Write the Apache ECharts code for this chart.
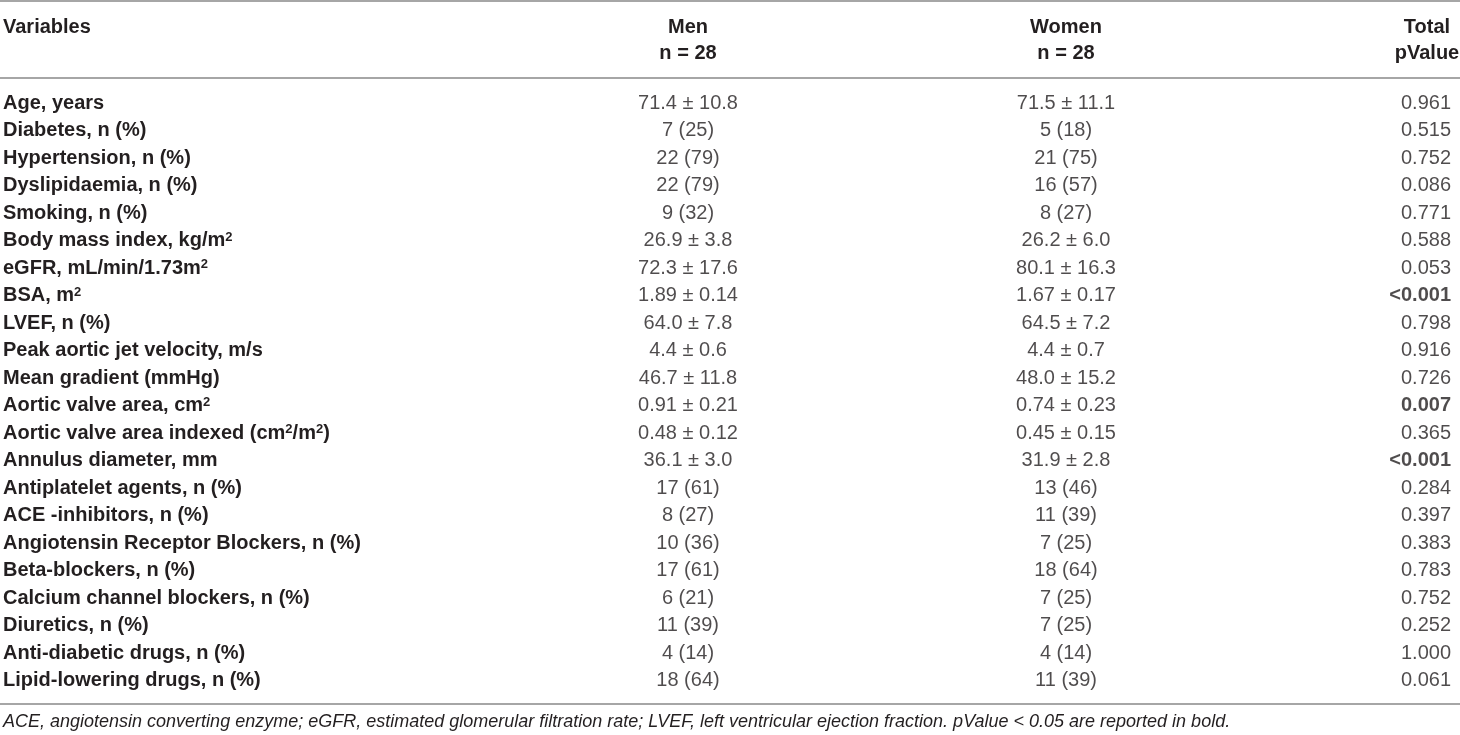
<!DOCTYPE html>
<html>
<head>
<meta charset="utf-8">
<script src="https://cdn.jsdelivr.net/npm/echarts@6/dist/echarts.min.js"></script>
<style>
html,body{margin:0;padding:0;background:#fff;}
#chart{width:1460px;height:735px;}
</style>
</head>
<body>
<div id="chart"></div>
<script>
// ---- data ----
const variables = [
  'Age, years',
  'Diabetes, n (%)',
  'Hypertension, n (%)',
  'Dyslipidaemia, n (%)',
  'Smoking, n (%)',
  'Body mass index, kg/m{sup|2}',
  'eGFR, mL/min/1.73m{sup|2}',
  'BSA, m{sup|2}',
  'LVEF, n (%)',
  'Peak aortic jet velocity, m/s',
  'Mean gradient (mmHg)',
  'Aortic valve area, cm{sup|2}',
  'Aortic valve area indexed (cm{sup|2}/m{sup|2})',
  'Annulus diameter, mm',
  'Antiplatelet agents, n (%)',
  'ACE -inhibitors, n (%)',
  'Angiotensin Receptor Blockers, n (%)',
  'Beta-blockers, n (%)',
  'Calcium channel blockers, n (%)',
  'Diuretics, n (%)',
  'Anti-diabetic drugs, n (%)',
  'Lipid-lowering drugs, n (%)'
];
const menValues = [
  '71.4 ± 10.8','7 (25)','22 (79)','22 (79)','9 (32)','26.9 ± 3.8','72.3 ± 17.6','1.89 ± 0.14',
  '64.0 ± 7.8','4.4 ± 0.6','46.7 ± 11.8','0.91 ± 0.21','0.48 ± 0.12','36.1 ± 3.0','17 (61)',
  '8 (27)','10 (36)','17 (61)','6 (21)','11 (39)','4 (14)','18 (64)'
];
const womenValues = [
  '71.5 ± 11.1','5 (18)','21 (75)','16 (57)','8 (27)','26.2 ± 6.0','80.1 ± 16.3','1.67 ± 0.17',
  '64.5 ± 7.2','4.4 ± 0.7','48.0 ± 15.2','0.74 ± 0.23','0.45 ± 0.15','31.9 ± 2.8','13 (46)',
  '11 (39)','7 (25)','18 (64)','7 (25)','7 (25)','4 (14)','11 (39)'
];
const pValues = [
  '0.961','0.515','0.752','0.086','0.771','0.588','0.053','<0.001','0.798','0.916','0.726',
  '0.007','0.365','<0.001','0.284','0.397','0.383','0.783','0.752','0.252','1.000','0.061'
];
const headerVariables = 'Variables';
const headerMen = ['Men', 'n = 28'];
const headerWomen = ['Women', 'n = 28'];
const headerTotal = ['Total', 'pValue'];
const footnote = 'ACE, angiotensin converting enzyme; eGFR, estimated glomerular filtration rate; LVEF, left ventricular ejection fraction. pValue < 0.05 are reported in bold.';

// ---- layout ----
const W = 1460;
const colX = { men: 688, women: 1066, total: 1451, totalHead: 1427 };
const FONT = '"Liberation Sans", Arial, Helvetica, sans-serif';
const TXT = '#231f20';
const FS = 20;
const RULE = '#a6a6a6';

const rich = {
  sup: { fontSize: 13, verticalAlign: 'top', lineHeight: 14, padding: [0, 0, 9, 0], fontWeight: 'bold', color: TXT, fontFamily: FONT },
  b: { fontWeight: 'bold', fontSize: FS, color: TXT, fontFamily: FONT }
};

function colSeries(values, x, align) {
  return {
    type: 'scatter',
    symbolSize: 0,
    silent: true,
    data: values.map((v, i) => [x, i, v]),
    label: {
      show: true,
      position: 'inside',
      align: align,
      verticalAlign: 'middle',
      fontFamily: FONT,
      fontSize: FS,
      color: TXT,
      formatter: p => {
        const v = p.data[2];
        return (align === 'right' && (v === '<0.001' || parseFloat(v) < 0.05)) ? '{b|' + v + '}' : v;
      },
      rich: rich
    }
  };
}

const chart = echarts.init(document.getElementById('chart'), null, { renderer: 'canvas' });

const headText = (text, x, y, align, bold) => ({
  type: 'text', x: x, y: y,
  style: { text: text, fontFamily: FONT, fontSize: FS, fontWeight: bold ? 'bold' : 'normal', fill: TXT, align: align, verticalAlign: 'middle' }
});
const rule = y => ({ type: 'line', shape: { x1: 0, y1: y, x2: W, y2: y }, style: { stroke: RULE, lineWidth: 2 } });

chart.setOption({
  animation: false,
  backgroundColor: '#fff',
  grid: { left: 0, right: 0, top: 89.5, height: 605 },
  xAxis: { type: 'value', min: 0, max: W, show: false },
  yAxis: {
    type: 'category',
    inverse: true,
    data: variables,
    axisLine: { show: false },
    axisTick: { show: false },
    splitLine: { show: false },
    axisLabel: {
      inside: true,
      margin: 3,
      align: 'left',
      fontFamily: FONT,
      fontSize: FS,
      fontWeight: 'bold',
      color: TXT,
      rich: rich
    }
  },
  series: [
    colSeries(menValues, colX.men, 'center'),
    colSeries(womenValues, colX.women, 'center'),
    colSeries(pValues, colX.total, 'right')
  ],
  graphic: [
    rule(1), rule(78), rule(704),
    headText(headerVariables, 3, 27, 'left', true),
    headText(headerMen[0], colX.men, 27, 'center', true),
    headText(headerMen[1], colX.men, 53, 'center', true),
    headText(headerWomen[0], colX.women, 27, 'center', true),
    headText(headerWomen[1], colX.women, 53, 'center', true),
    headText(headerTotal[0], colX.totalHead, 27, 'center', true),
    headText(headerTotal[1], colX.totalHead, 53, 'center', true),
    {
      type: 'text', x: 3, y: 722,
      style: { text: footnote, fontFamily: FONT, fontSize: 18, fontStyle: 'italic', fill: TXT, align: 'left', verticalAlign: 'middle' }
    }
  ]
});
</script>
</body>
</html>
